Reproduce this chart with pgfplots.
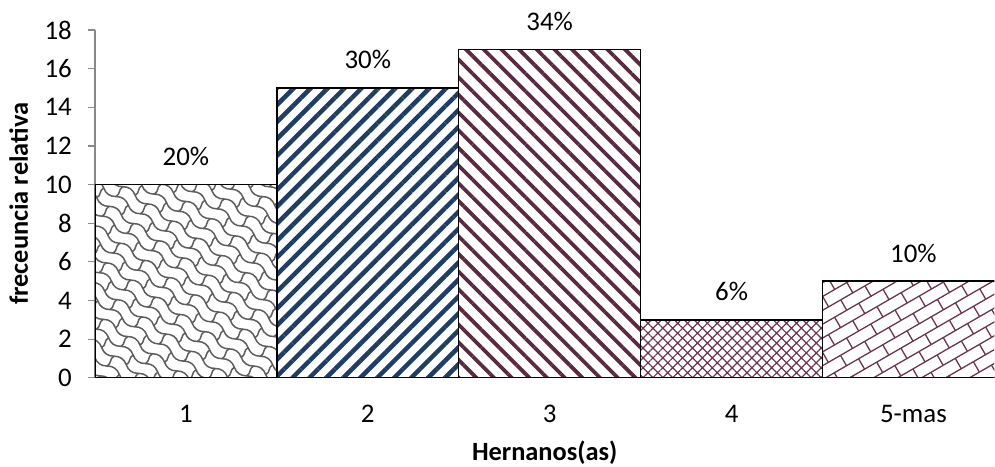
\documentclass[border=0pt]{standalone}
\usepackage{fontspec}
\setmainfont{Carlito}
\usepackage{pgfplots}
\pgfplotsset{compat=1.18}
\usetikzlibrary{patterns,patterns.meta}

\definecolor{navy}{HTML}{1F3E66}
\definecolor{wine}{HTML}{5C2A40}
\definecolor{winelt}{HTML}{6A3550}
\definecolor{axisgray}{HTML}{898989}
\definecolor{weavegray}{HTML}{5E5E5E}

% wavy shingles for the first bar
\tikzdeclarepattern{
  name=shingle,
  type=uncolored,
  bounding box={(-3bp,-4bp) and (33bp,28bp)},
  tile size={(30bp,24bp)},
  tile transformation={rotate=-35},
  code={
    \draw[line width=1.5bp, line cap=round]
      (0,0) .. controls (5bp,3.5bp) and (10bp,3.5bp) .. (15bp,0)
            .. controls (20bp,-3.5bp) and (25bp,-3.5bp) .. (30bp,0)
      (0,12bp) .. controls (5bp,15.5bp) and (10bp,15.5bp) .. (15bp,12bp)
            .. controls (20bp,8.5bp) and (25bp,8.5bp) .. (30bp,12bp)
      (0,0) .. controls (2.5bp,5bp) and (-2.5bp,7bp) .. (0,12bp)
      (15bp,12bp) .. controls (17.5bp,17bp) and (12.5bp,19bp) .. (15bp,24bp);
  }
}

% diagonal bricks for the last bar
\tikzdeclarepattern{
  name=diagbricks,
  type=uncolored,
  bounding box={(-1bp,-1bp) and (29bp,25bp)},
  tile size={(28bp,24bp)},
  tile transformation={rotate=30},
  code={
    \draw[line width=1.3bp]
      (0,0) -- (28bp,0) (0,12bp) -- (28bp,12bp)
      (0,0) -- (0,12bp) (14bp,12bp) -- (14bp,24bp);
  }
}

\begin{document}
\begin{tikzpicture}
\begin{axis}[
  name=main,
  scale only axis,
  width=900bp, height=348bp,
  xmin=-0.5, xmax=4.445,
  ymin=0, ymax=18,
  ytick={0,2,...,18},
  xtick={0,1,2,3,4},
  xticklabels={1,2,3,4,5-mas},
  axis lines*=left,
  axis line style={axisgray, line width=1.2bp},
  tick align=outside,
  ytick style={axisgray, line width=1.2bp},
  major tick length=7bp,
  xtick style={draw=none},
  tick label style={font=\fontsize{27}{30}\selectfont, text=black, inner sep=0pt},
  yticklabel style={anchor=east, xshift=-16bp},
  xticklabel style={anchor=base, yshift=-38bp},
  /pgf/number format/assume math mode=true,
  xlabel={\textbf{Hernanos(as)}},
  ylabel={\textbf{freceuncia relativa}},
  label style={font=\fontsize{26.5}{30}\selectfont, inner sep=0pt},
  xlabel style={at={(axis description cs:0.5,0)}, anchor=base, yshift=-83bp},
  ylabel style={at={(axis description cs:0,0.5)}, anchor=base, yshift=67bp},
  ybar, bar width=1, bar shift=0,
  point meta=explicit symbolic,
  nodes near coords,
  every node near coord/.append style={font=\fontsize{27}{30}\selectfont, text=black, anchor=base, inner sep=0pt, yshift=19bp},
]
\addplot[draw=black, line width=1.5bp, pattern=shingle, pattern color=weavegray]
  coordinates {(0,10) [20\%]};
\addplot[draw=black, line width=1.5bp, pattern={Lines[angle=45, distance=12bp, line width=4.5bp]}, pattern color=navy]
  coordinates {(1,15) [30\%]};
\addplot[draw=black, line width=1.5bp, pattern={Lines[angle=-45, distance=12.5bp, line width=3.8bp]}, pattern color=wine]
  coordinates {(2,17) [34\%]};
\addplot[draw=black, line width=1.5bp, pattern={Hatch[angle=45, distance=7bp, line width=1.2bp]}, pattern color=winelt]
  coordinates {(3,3) [6\%]};
\addplot[draw=black, line width=1.5bp, pattern=diagbricks, pattern color=winelt]
  coordinates {(4,5) [10\%]};
\end{axis}
\path[use as bounding box] ([xshift=-95bp,yshift=-89bp]main.south west) rectangle ([yshift=30bp]main.north east);
\end{tikzpicture}
\end{document}
